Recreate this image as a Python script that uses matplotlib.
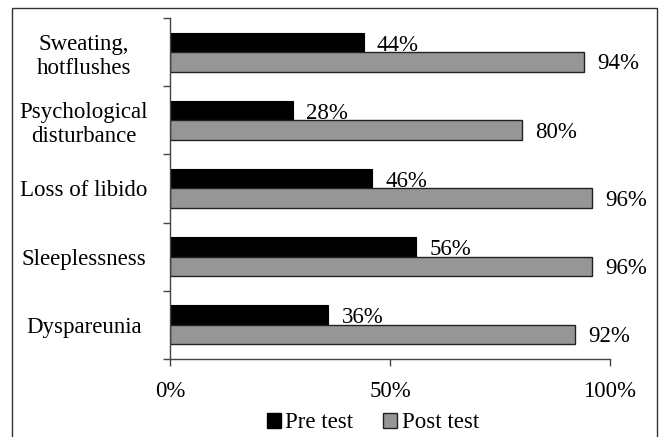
import numpy as np
import matplotlib
matplotlib.use("Agg")
import matplotlib.pyplot as plt
from matplotlib.patches import Patch, Rectangle

# symptom categories, top to bottom
categories = ["Sweating,\nhotflushes", "Psychological\ndisturbance",
              "Loss of libido", "Sleeplessness", "Dyspareunia"]
pre_test = [44, 28, 46, 56, 36]
post_test = [94, 80, 96, 96, 92]
xticks = [0, 50, 100]

PRE_COLOR = "black"
POST_COLOR = "#969696"

plt.rcParams["font.family"] = ["Liberation Serif", "DejaVu Serif"]
plt.rcParams["font.size"] = 16.5

fig = plt.figure(figsize=(6.62, 4.37), dpi=100)
ax = fig.add_axes([170 / 662, 1 - 359 / 437, 440 / 662, 341 / 437])

y = np.arange(len(categories))
h = 0.286
ax.barh(y - h / 2, pre_test, height=h, color=PRE_COLOR, edgecolor="black", lw=0.8)
ax.barh(y + h / 2, post_test, height=h, color=POST_COLOR, edgecolor="#222222", lw=1.0)

for yi, v in zip(y, pre_test):
    ax.annotate("%d%%" % v, (v, yi - h / 2), xytext=(9.5, -2), textcoords="offset points",
                ha="left", va="center")
for yi, v in zip(y, post_test):
    ax.annotate("%d%%" % v, (v, yi + h / 2), xytext=(9.5, -1.5), textcoords="offset points",
                ha="left", va="center")

ax.set_xlim(0, 100)
ax.set_ylim(len(categories) - 0.5, -0.5)
ax.set_xticks(xticks)
ax.set_xticklabels(["%d%%" % t for t in xticks])
ax.tick_params(axis="x", direction="out", length=5, width=1, color="#444444", pad=11)

# category labels centred, tick marks drawn at the group boundaries
ax.set_yticks(y)
ax.set_yticklabels(categories, ha="center", linespacing=1.2)
ax.tick_params(axis="y", which="major", length=0, pad=62)
ax.set_yticks(np.arange(len(categories) + 1) - 0.5, minor=True)
ax.tick_params(axis="y", which="minor", direction="out", length=5, width=1, color="#444444")

for s in ("top", "right"):
    ax.spines[s].set_visible(False)
for s in ("left", "bottom"):
    ax.spines[s].set_color("#444444")
    ax.spines[s].set_linewidth(1.0)

handles = [Patch(facecolor=PRE_COLOR, edgecolor="black", label="Pre test"),
           Patch(facecolor=POST_COLOR, edgecolor="#222222", label="Post test")]
fig.legend(handles=handles, loc="center", bbox_to_anchor=(373 / 662, 1 - 423 / 437),
           ncol=2, frameon=False, handlelength=0.6, handleheight=0.6,
           handletextpad=0.2, columnspacing=1.3, borderpad=0)

# chart-area border
fig.patches.append(Rectangle((12 / 662, -0.1), 645 / 662, 1.1 - 8 / 437,
                             transform=fig.transFigure, fill=False,
                             edgecolor="#333333", lw=1.0))

fig.savefig("out.png", dpi=100)
